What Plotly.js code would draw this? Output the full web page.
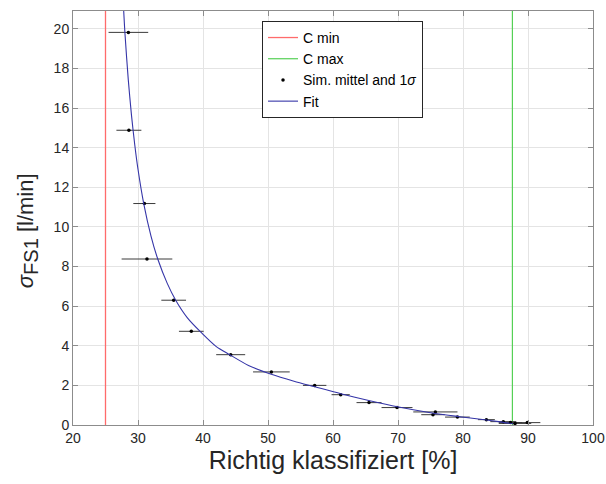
<!DOCTYPE html>
<html>
<head>
<meta charset="utf-8">
<script src="https://cdn.plot.ly/plotly-3.0.1.min.js"></script>
<style>
  html, body { margin: 0; padding: 0; background: #fff; }
  #chart { width: 606px; height: 484px; }
</style>
</head>
<body>
<div id="chart"></div>
<script>
// Class-boundary limits [%]
const cMin = 25.0;
const cMax = 87.6;

// Simulation means (x = correctly classified [%], y = sigma FS1 [l/min]) with 1-sigma spread in x
const simX    = [28.52, 28.6, 30.98, 31.38, 35.49, 38.2, 44.26, 50.52, 57.18, 61.18, 65.54, 69.85, 75.75, 75.38, 79.14, 83.6, 86.2, 87.3, 88.0, 89.9];
const simY    = [19.82, 14.88, 11.18, 8.38, 6.30, 4.73, 3.55, 2.68, 2.00, 1.53, 1.13, 0.88, 0.66, 0.52, 0.40, 0.27, 0.17, 0.12, 0.08, 0.12];
const simErrX = [3.05, 1.92, 1.70, 3.90, 1.90, 1.90, 2.23, 2.82, 1.80, 1.40, 1.92, 2.38, 3.40, 1.80, 1.90, 1.30, 2.00, 1.80, 2.50, 2.00];

// Fitted curve
const fitX = [27.8, 28.0, 28.5, 29.0, 29.5, 30.0, 30.88, 32.0, 33.08, 34.5, 35.8, 37.6, 39.75, 42.0, 44.1, 47.0, 50.5, 54.0, 57.2, 61.2, 65.5, 69.9, 75.0, 79.5, 83.0, 85.5, 87.7];
const fitY = [20.9, 19.74, 17.45, 15.63, 14.15, 12.91, 11.18, 9.54, 8.34, 7.15, 6.3, 5.41, 4.66, 3.97, 3.55, 3.01, 2.56, 2.21, 1.93, 1.58, 1.24, 0.92, 0.62, 0.42, 0.28, 0.17, 0.06];

// Axis settings
const xTicks = [20, 30, 40, 50, 60, 70, 80, 90, 100];
const yTicks = [0, 2, 4, 6, 8, 10, 12, 14, 16, 18, 20];
const xRange = [20, 100];
const yRange = [0, 20.9];

const yLabel = '<i>σ</i><sub><span style="font-size:20px">FS1</span></sub> [l/min]';
const xLabel = 'Richtig klassifiziert [%]';

const font = 'Arial, "Liberation Sans", Helvetica, sans-serif';

const traces = [
  {
    x: [cMin, cMin], y: yRange, mode: 'lines', name: 'C min',
    line: { color: '#ff6b6b', width: 1.3 }
  },
  {
    x: [cMax, cMax], y: yRange, mode: 'lines', name: 'C max',
    line: { color: '#55d055', width: 1.2 }
  },
  {
    x: simX, y: simY, mode: 'markers', name: 'Sim. mittel and 1<i>σ</i>',
    marker: { color: '#000', size: 3.5 },
    error_x: { type: 'data', array: simErrX, visible: true, color: '#3a3a3a', thickness: 1, width: 0 }
  },
  {
    x: fitX, y: fitY, mode: 'lines', name: 'Fit',
    line: { color: '#3535a8', width: 1.1, shape: 'spline', smoothing: 0.8 }
  }
];

const axisCommon = {
  showline: true, linecolor: '#8c8c8c', linewidth: 1, mirror: 'ticks',
  ticks: 'inside', ticklen: 5, tickcolor: '#8c8c8c', tickwidth: 1,
  showgrid: true, gridcolor: '#e4e4e4', gridwidth: 1,
  zeroline: false, tickfont: { family: font, size: 14, color: '#262626' }
};

const layout = {
  width: 606, height: 484,
  margin: { l: 73, r: 13, t: 11, b: 59 },
  paper_bgcolor: '#fff', plot_bgcolor: '#fff',
  font: { family: font, color: '#262626' },
  showlegend: true,
  legend: {
    x: 0.3635, y: 0.976, xanchor: 'left', yanchor: 'top',
    bgcolor: '#fff', bordercolor: '#262626', borderwidth: 1,
    font: { family: font, size: 14, color: '#000' },
    tracegroupgap: 0, itemwidth: 30
  },
  xaxis: Object.assign({}, axisCommon, {
    range: xRange, tickvals: xTicks, ticktext: xTicks.map(String),
    title: { text: xLabel, font: { family: font, size: 25, color: '#262626' }, standoff: 6 }
  }),
  yaxis: Object.assign({}, axisCommon, {
    range: yRange, tickvals: yTicks, ticktext: yTicks.map(String)
  }),
  annotations: [{
    text: yLabel, textangle: -90, showarrow: false,
    xref: 'paper', yref: 'paper', x: -0.087, y: 0.47,
    xanchor: 'center', yanchor: 'middle',
    font: { family: font, size: 22, color: '#262626' }
  }]
};

Plotly.newPlot('chart', traces, layout, { displayModeBar: false, staticPlot: true });
</script>
</body>
</html>
